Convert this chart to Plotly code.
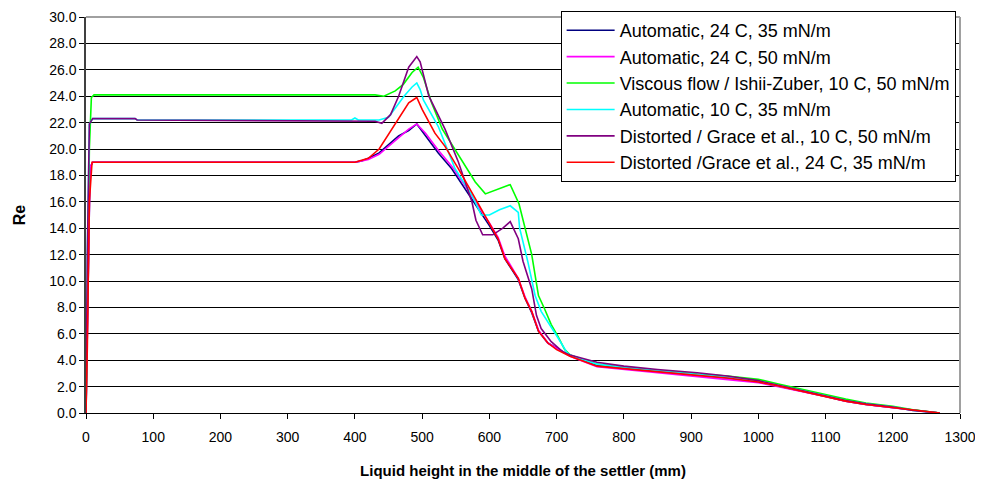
import plotly.graph_objects as go

# ---------------- data ----------------
names = [
    "Automatic, 24 C, 35 mN/m",
    "Automatic, 24 C, 50 mN/m",
    "Viscous flow / Ishii-Zuber, 10 C, 50 mN/m",
    "Automatic, 10 C, 35 mN/m",
    "Distorted / Grace et al., 10 C, 50 mN/m",
    "Distorted /Grace et al., 24 C, 35 mN/m",
]
colors = ["#000080", "#FF00FF", "#00FF00", "#00FFFF", "#800080", "#FF0000"]

tail_x = [720, 760, 800, 850, 909, 954, 1000, 1030, 1060, 1100, 1130, 1160, 1200, 1230, 1250, 1270]

blue_x = [0, 3, 6, 10, 400, 410, 420, 436, 450, 465, 480, 492, 505, 524, 544, 564, 584,
          600, 613, 623, 643, 653, 663, 673, 687, 700] + tail_x
blue_y = [0, 10, 18.6, 19.0, 19.0, 19.1, 19.3, 19.7, 20.3, 21.0, 21.4, 21.9, 21.0, 19.7, 18.5, 17.0, 15.5,
          14.2, 13.1, 11.7, 10.1, 8.7, 7.6, 6.2, 5.3, 4.9,
          4.35, 3.6, 3.4, 3.15, 2.85, 2.65, 2.35, 2.05, 1.7, 1.25, 0.9, 0.65, 0.4, 0.2, 0.1, 0.0]

mag_x = [0, 3, 6, 10, 400, 410, 420, 436, 450, 465, 480, 492, 505, 524, 544, 564, 584,
         600, 613, 623, 643, 653, 663, 673, 687, 700] + tail_x
mag_y = [0, 10, 18.6, 19.0, 19.0, 19.1, 19.2, 19.6, 20.2, 20.9, 21.5, 21.9, 21.2, 19.9, 18.7, 17.2, 15.7,
         14.4, 13.3, 11.9, 10.2, 8.8, 7.7, 6.3, 5.3, 4.9,
         4.3, 3.5, 3.3, 3.05, 2.7, 2.5, 2.3, 2.0, 1.7, 1.25, 0.9, 0.65, 0.4, 0.2, 0.1, 0.0]

green_x = [0, 2, 5, 8, 12, 430, 443, 460, 472, 485, 494, 502, 514, 530, 554, 579, 594, 610, 631,
           644, 653, 663, 668, 673, 682, 692, 702, 712] + tail_x
green_y = [0, 10, 20, 23.9, 24.1, 24.1, 24.0, 24.4, 24.9, 25.8, 26.2, 25.4, 23.5, 21.5, 19.5, 17.5, 16.6, 16.9, 17.3,
           15.85, 14.0, 12.0, 10.45, 8.9, 7.9, 6.7, 5.8, 4.8,
           4.4, 3.7, 3.45, 3.2, 2.95, 2.8, 2.55, 2.2, 1.85, 1.4, 1.05, 0.75, 0.5, 0.25, 0.1, 0.0]

cyan_x = [0, 2, 5, 10, 73, 76, 395, 400, 405, 436, 450, 473, 485, 492, 497, 502, 524, 549, 574, 588,
          600, 615, 631, 643, 645, 657, 668, 677, 702, 715] + tail_x
cyan_y = [0, 12, 21.9, 22.3, 22.3, 22.2, 22.2, 22.35, 22.2, 22.2, 22.4, 24.0, 24.7, 25.0, 24.5, 23.7, 21.7, 18.5, 16.5, 15.0,
          15.0, 15.4, 15.7, 15.2, 14.0, 11.5, 8.9, 7.7, 5.7, 4.6,
          4.4, 3.7, 3.45, 3.2, 2.9, 2.7, 2.4, 2.1, 1.75, 1.3, 0.95, 0.7, 0.45, 0.2, 0.1, 0.0]

purple_x = [0, 2, 5, 10, 73, 76, 430, 440, 453, 465, 480, 492, 497, 510, 534, 554, 574, 580, 590, 605,
            620, 631, 643, 650, 663, 670, 677, 692, 710] + tail_x
purple_y = [0, 12, 21.9, 22.3, 22.3, 22.2, 22.1, 21.95, 22.6, 24.0, 26.2, 27.0, 26.6, 24.0, 21.5, 19.0, 16.0, 14.6, 13.5, 13.5,
            14.0, 14.5, 13.2, 11.5, 9.4, 7.4, 6.4, 5.4, 4.6,
            4.4, 3.85, 3.55, 3.3, 3.05, 2.8, 2.45, 2.1, 1.75, 1.3, 0.95, 0.7, 0.45, 0.2, 0.1, 0.0]

red_x = [0, 2, 5, 9, 400, 420, 436, 455, 480, 492, 500, 519, 534, 554, 574, 594, 613, 623,
         643, 653, 663, 673, 687, 700] + tail_x
red_y = [0, 5, 16, 19.0, 19.0, 19.3, 20.0, 21.5, 23.5, 23.9, 23.0, 21.2, 20.2, 18.5, 16.7, 15.0, 13.2, 11.7,
         10.2, 8.7, 7.7, 6.2, 5.3, 4.8,
         4.3, 3.55, 3.35, 3.1, 2.85, 2.65, 2.35, 2.05, 1.7, 1.25, 0.9, 0.65, 0.4, 0.2, 0.1, 0.0]

series_x = [blue_x, mag_x, green_x, cyan_x, purple_x, red_x]
series_y = [blue_y, mag_y, green_y, cyan_y, purple_y, red_y]

x_ticks = list(range(0, 1301, 100))
y_ticks = [i * 2.0 for i in range(16)]

x_title = "Liquid height in the middle of the settler (mm)"
y_title = "Re"

# ---------------- figure ----------------
# (the page body has an 8px margin, so the figure is offset by 8px)
FONT = "Liberation Sans, Arial, sans-serif"
fig = go.Figure()
for n, c, xs, ys in zip(names, colors, series_x, series_y):
    fig.add_trace(go.Scatter(x=xs, y=ys, mode="lines", name=n,
                             line=dict(color=c, width=1.6)))

fig.update_layout(
    width=975, height=471,
    margin=dict(l=78, r=23, t=9, b=66, autoexpand=False),
    paper_bgcolor="white", plot_bgcolor="white",
    font=dict(family=FONT, size=15, color="black"),
    showlegend=True,
    legend=dict(
        x=0.995, y=1.015, xanchor="right", yanchor="top",
        bgcolor="white", bordercolor="black", borderwidth=1,
        font=dict(family=FONT, size=18, color="black"),
        tracegroupgap=0, itemwidth=48,
    ),
    xaxis=dict(
        range=[0, 1300], tickvals=x_ticks, ticks="outside", ticklen=5,
        tickcolor="black", showgrid=False, zeroline=False,
        showline=True, linecolor="black", linewidth=1, automargin=False,
        tickfont=dict(family=FONT, size=14), ticklabelstandoff=6,
        ticklabeloverflow="allow",
        title=dict(text="<b>" + x_title + "</b>", font=dict(family=FONT, size=15), standoff=21),
    ),
    yaxis=dict(
        range=[0, 30], tickvals=y_ticks, tickformat=".1f", ticks="outside", ticklen=5,
        tickcolor="black", showgrid=True, gridcolor="black", gridwidth=1, zeroline=False,
        showline=True, linecolor="#404040", linewidth=1.5, automargin=False,
        tickfont=dict(family=FONT, size=14), ticklabeloverflow="allow",
        title=dict(text="<b>" + y_title + "</b>", font=dict(family=FONT, size=16), standoff=20),
    ),
)
# plot-area frame (top and right in grey)
fig.add_shape(type="line", xref="paper", yref="paper", x0=0, x1=1, y0=1, y1=1,
              line=dict(color="#A0A0A0", width=2), layer="above")
fig.add_shape(type="line", xref="paper", yref="paper", x0=1, x1=1, y0=0, y1=1,
              line=dict(color="#A0A0A0", width=2), layer="above")

fig.write_html("out.html")
